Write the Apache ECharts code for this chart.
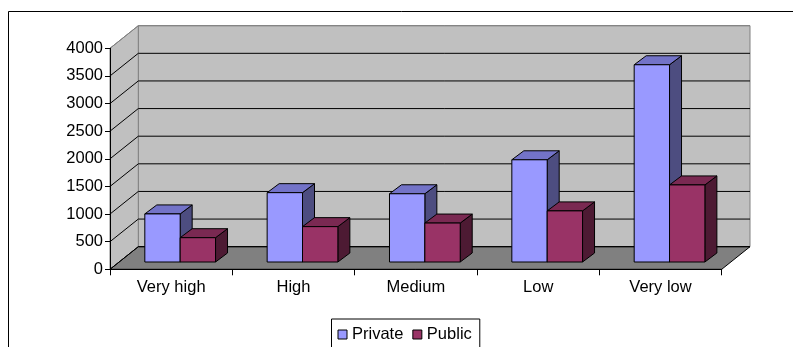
<!DOCTYPE html>
<html>
<head>
<meta charset="utf-8">
<script src="https://cdn.jsdelivr.net/npm/echarts@6/dist/echarts.min.js"></script>
<style>
  html, body { margin: 0; padding: 0; background: #ffffff; }
  #chart { width: 793px; height: 347px; }
</style>
</head>
<body>
<div id="chart"></div>
<script>
// ---- data ----
const categories = ['Very high', 'High', 'Medium', 'Low', 'Very low'];
const privateValues = [870, 1255, 1235, 1850, 3570];
const publicValues = [440, 640, 705, 925, 1395];
const yTicks = [0, 500, 1000, 1500, 2000, 2500, 3000, 3500, 4000];
const seriesNames = ['Private', 'Public'];

// ---- oblique 3D look (pixel offsets for depth) ----
const WALL = { dx: 28.3, dy: -22.6 };     // front plane -> back wall
const BAR_FRONT = { dx: 9, dy: -7.3 };    // front plane -> front face of the bars
const BAR_DEPTH = { dx: 12, dy: -9 };     // thickness of a bar
const BAR_WIDTH = 0.289;                   // of one category band

const FONT = '"Liberation Sans", Arial, sans-serif';
const FONT_SIZE = 16.5;

const colors = {
  Private: { front: '#9999FF', top: '#7373C8', side: '#4D4D80' },
  Public:  { front: '#993366', top: '#7A2952', side: '#4D1A33' }
};

function renderWalls(params, api) {
  const cs = params.coordSys;
  const L = cs.x, R = cs.x + cs.width, T = cs.y, B = cs.y + cs.height;
  const dx = WALL.dx, dy = WALL.dy;
  return {
    type: 'group',
    children: [
      { type: 'rect', shape: { x: L + dx, y: T + dy, width: cs.width, height: cs.height },
        style: { fill: '#C0C0C0', stroke: '#808080', lineWidth: 1 } },
      { type: 'polygon', shape: { points: [[L, B], [L, T], [L + dx, T + dy], [L + dx, B + dy]] },
        style: { fill: '#C0C0C0', stroke: '#808080', lineWidth: 1 } },
      { type: 'polygon', shape: { points: [[L, B], [R, B], [R + dx, B + dy], [L + dx, B + dy]] },
        style: { fill: '#808080', stroke: '#000000', lineWidth: 1 } }
    ]
  };
}

function renderGridLine(params, api) {
  const cs = params.coordSys;
  const L = cs.x, R = cs.x + cs.width;
  const v = api.value(1);
  const y = api.coord([0, v])[1];
  const isTop = v === yTicks[yTicks.length - 1];
  const color = isTop ? '#808080' : '#000000';
  return {
    type: 'group',
    children: [
      { type: 'line', shape: { x1: L, y1: y, x2: L + WALL.dx, y2: y + WALL.dy },
        style: { stroke: color, lineWidth: 1 } },
      { type: 'line', shape: { x1: L + WALL.dx, y1: y + WALL.dy, x2: R + WALL.dx, y2: y + WALL.dy },
        style: { stroke: color, lineWidth: 1 } }
    ]
  };
}

function makeBarRenderer(name, slot) {
  const c = colors[name];
  return function (params, api) {
    const idx = api.value(0);
    const v = api.value(1);
    const base = api.coord([idx, 0]);
    const top = api.coord([idx, v]);
    const band = api.size([1, 0])[0];
    const bw = band * BAR_WIDTH;
    const x0 = base[0] + BAR_FRONT.dx + slot * bw;
    const x1 = x0 + bw;
    const yb = base[1] + BAR_FRONT.dy;
    const yt = top[1] + BAR_FRONT.dy;
    const ddx = BAR_DEPTH.dx, ddy = BAR_DEPTH.dy;
    const stroke = { stroke: '#000000', lineWidth: 1, lineJoin: 'miter' };
    return {
      type: 'group',
      children: [
        { type: 'polygon', shape: { points: [[x1, yt], [x1 + ddx, yt + ddy], [x1 + ddx, yb + ddy], [x1, yb]] },
          style: Object.assign({ fill: c.side }, stroke) },
        { type: 'polygon', shape: { points: [[x0, yt], [x1, yt], [x1 + ddx, yt + ddy], [x0 + ddx, yt + ddy]] },
          style: Object.assign({ fill: c.top }, stroke) },
        { type: 'rect', shape: { x: x0, y: yt, width: bw, height: yb - yt },
          style: Object.assign({ fill: c.front }, stroke) }
      ]
    };
  };
}

const chart = echarts.init(document.getElementById('chart'), null, { renderer: 'canvas' });

chart.setOption({
  animation: false,
  backgroundColor: '#ffffff',
  textStyle: { fontFamily: FONT },
  graphic: [
    { type: 'rect', z: 0, silent: true,
      shape: { x: 8.5, y: 11.5, width: 900, height: 500 },
      style: { fill: 'none', stroke: '#000000', lineWidth: 1 } }
  ],
  grid: { left: 110, right: 71.3, top: 48.3, bottom: 77.7, containLabel: false },
  xAxis: {
    type: 'category',
    data: categories,
    boundaryGap: true,
    z: 10,
    axisLine: { show: true, lineStyle: { color: '#000000', width: 1 } },
    axisTick: { show: true, length: 6, alignWithLabel: false, lineStyle: { color: '#000000' } },
    axisLabel: { color: '#000000', fontSize: FONT_SIZE, fontFamily: FONT, margin: 10, interval: 0 },
    splitLine: { show: false }
  },
  yAxis: {
    type: 'value',
    min: 0,
    max: 4000,
    interval: 500,
    z: 10,
    axisLine: { show: true, lineStyle: { color: '#000000', width: 1 } },
    axisTick: { show: true, length: 5, lineStyle: { color: '#000000' } },
    axisLabel: { color: '#000000', fontSize: FONT_SIZE, fontFamily: FONT, margin: 7,
                 formatter: v => String(v) },
    splitLine: { show: false }
  },
  legend: {
    data: seriesNames,
    left: 331.5,
    top: 319,
    orient: 'horizontal',
    icon: 'rect',
    itemWidth: 9,
    itemHeight: 9,
    itemGap: 9,
    padding: [7, 8, 16, 6],
    borderColor: '#000000',
    borderWidth: 1,
    backgroundColor: '#ffffff',
    itemStyle: { borderColor: '#000000', borderWidth: 1 },
    textStyle: { color: '#000000', fontSize: FONT_SIZE, fontFamily: FONT },
    selectedMode: false
  },
  series: [
    { type: 'custom', name: 'walls', silent: true, clip: false, z: 1,
      data: [[0, 0]], encode: { x: 0, y: 1 }, renderItem: renderWalls },
    { type: 'custom', name: 'gridlines', silent: true, clip: false, z: 1,
      data: yTicks.map(v => [0, v]), encode: { x: 0, y: 1 }, renderItem: renderGridLine },
    { type: 'custom', name: 'Private', clip: false, z: 2,
      itemStyle: { color: colors.Private.front },
      data: privateValues.map((v, i) => [i, v]), encode: { x: 0, y: 1 },
      renderItem: makeBarRenderer('Private', -1) },
    { type: 'custom', name: 'Public', clip: false, z: 2,
      itemStyle: { color: colors.Public.front },
      data: publicValues.map((v, i) => [i, v]), encode: { x: 0, y: 1 },
      renderItem: makeBarRenderer('Public', 0) }
  ]
});
</script>
</body>
</html>
